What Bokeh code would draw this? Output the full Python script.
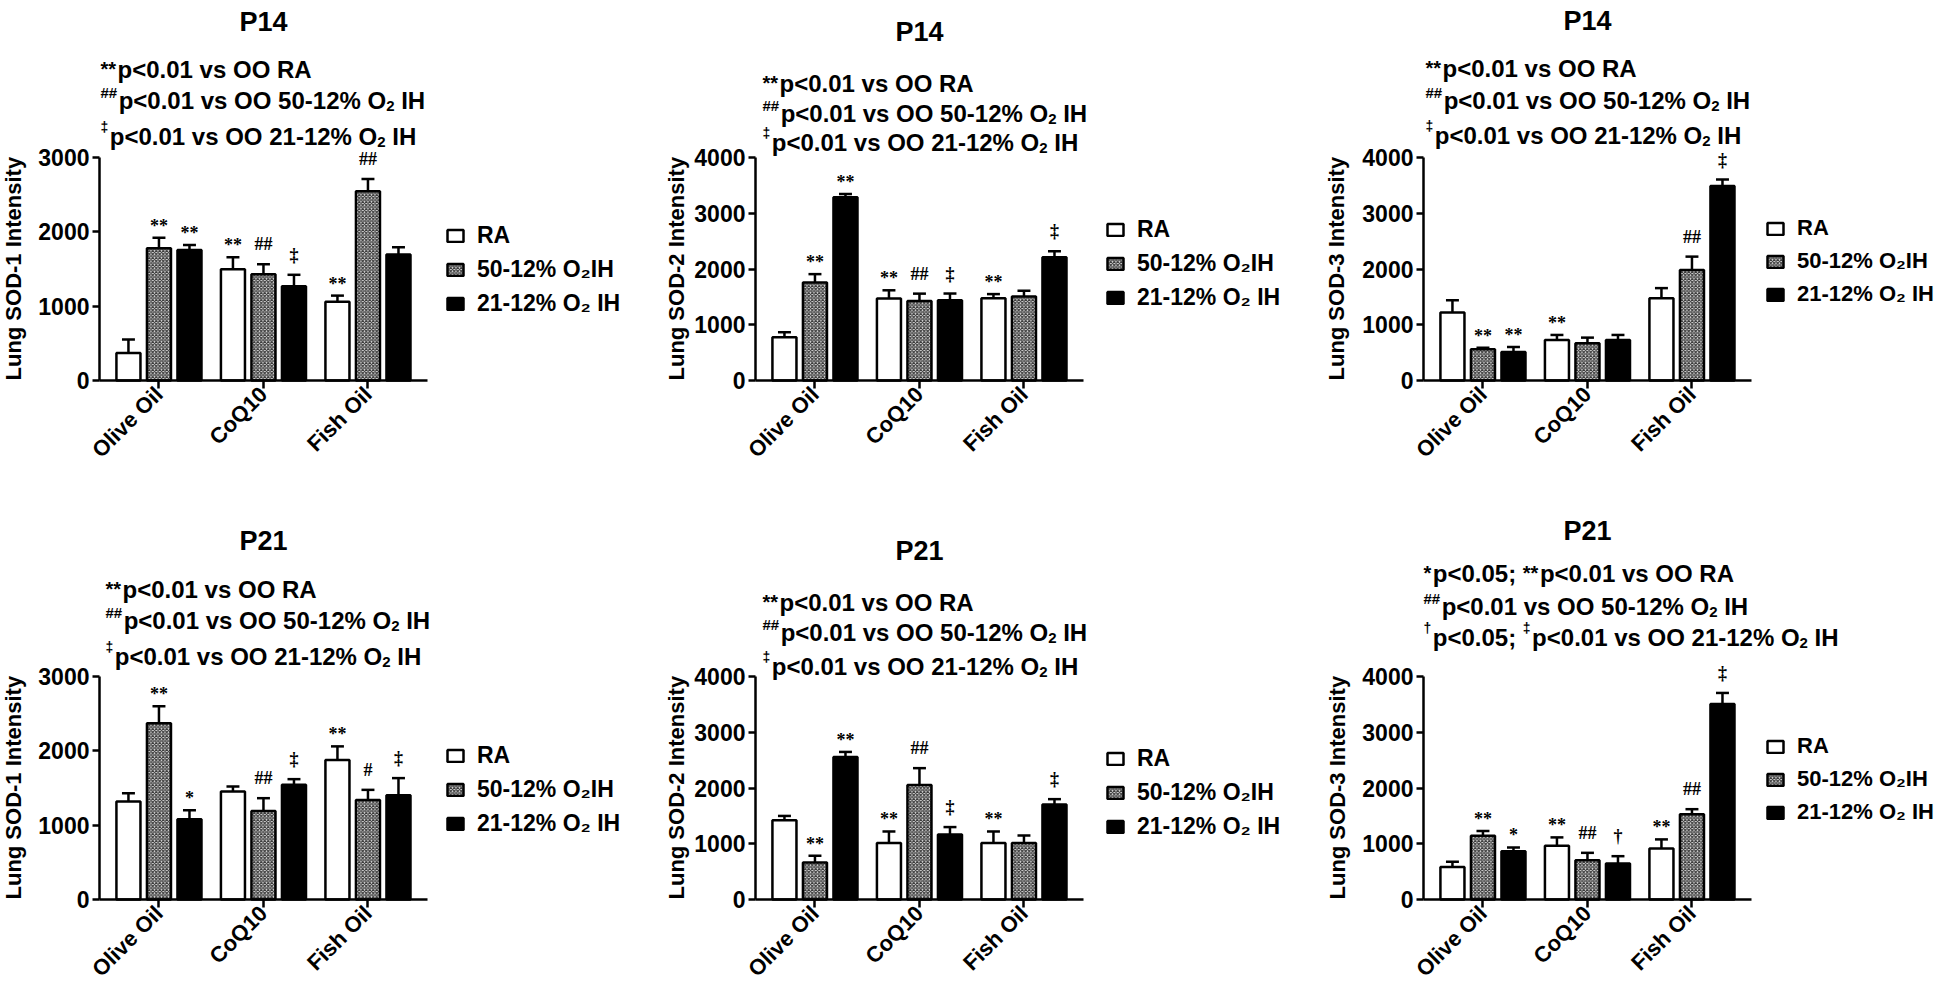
import math
from bokeh.plotting import figure
from bokeh.models import (Range1d, FixedTicker, ColumnDataSource,
                          Label, LabelSet, Legend, LegendItem)
from bokeh.transform import dodge
from bokeh.layouts import column, row
from bokeh.embed import file_html
from bokeh.resources import INLINE

FONT = "Liberation Sans"

# ---------------- data ----------------
GROUPS = ["Olive Oil", "CoQ10", "Fish Oil"]
SERIES = ["RA", "50-12% O\u2082IH", "21-12% O\u2082 IH"]
Y_TICKS_3000 = [0, 1000, 2000, 3000]
Y_TICKS_4000 = [0, 1000, 2000, 3000, 4000]

# rows: RA, 50-12% O2 IH, 21-12% O2 IH ; columns: Olive Oil, CoQ10, Fish Oil
P14_SOD1_MEAN = [[370, 1498, 1058], [1780, 1431, 2545], [1755, 1267, 1694]]
P14_SOD1_SEM = [[180, 160, 84], [140, 133, 167], [67, 155, 99]]
P14_SOD1_SIG = [["", "**", "**"], ["**", "##", "##"], ["**", "\u2021", ""]]

P14_SOD2_MEAN = [[776, 1473, 1477], [1758, 1424, 1507], [3285, 1440, 2210]]
P14_SOD2_SEM = [[90, 145, 73], [150, 134, 103], [60, 120, 108]]
P14_SOD2_SIG = [["", "**", "**"], ["**", "##", ""], ["**", "\u2021", "\u2021"]]

P14_SOD3_MEAN = [[1219, 727, 1477], [559, 667, 1982], [510, 727, 3490]]
P14_SOD3_SEM = [[222, 90, 180], [30, 102, 240], [90, 90, 114]]
P14_SOD3_SIG = [["", "**", ""], ["**", "", "##"], ["**", "", "\u2021"]]

P21_SOD1_MEAN = [[1318, 1453, 1876], [2371, 1192, 1340], [1080, 1543, 1403]]
P21_SOD1_SEM = [[112, 67, 184], [229, 171, 135], [121, 76, 230]]
P21_SOD1_SIG = [["", "", "**"], ["**", "##", "#"], ["*", "\u2021", "\u2021"]]

P21_SOD2_MEAN = [[1420, 1015, 1015], [665, 2054, 1015], [2556, 1166, 1704]]
P21_SOD2_SEM = [[79, 205, 205], [120, 302, 133], [91, 133, 96]]
P21_SOD2_SIG = [["", "**", "**"], ["**", "##", ""], ["**", "\u2021", "\u2021"]]

P21_SOD3_MEAN = [[584, 964, 916], [1145, 705, 1530], [867, 645, 3506]]
P21_SOD3_SEM = [[91, 150, 162], [84, 132, 90], [67, 132, 199]]
P21_SOD3_SIG = [["", "**", "**"], ["**", "##", "##"], ["*", "\u2020", "\u2021"]]

NOTES_STD = [
    [("**", "sup"), ("p<0.01 vs OO RA", "n")],
    [("##", "sup"), ("p<0.01 vs OO 50-12% O", "n"), ("2", "sub"), (" IH", "n")],
    [("\u2021", "sup"), ("p<0.01 vs OO 21-12% O", "n"), ("2", "sub"), (" IH", "n")],
]
NOTES_P21_SOD3 = [
    [("*", "sup"), ("p<0.05; ", "n"), ("**", "sup"), ("p<0.01 vs OO RA", "n")],
    [("##", "sup"), ("p<0.01 vs OO 50-12% O", "n"), ("2", "sub"), (" IH", "n")],
    [("\u2020", "sup"), ("p<0.05; ", "n"), ("\u2021", "sup"),
     ("p<0.01 vs OO 21-12% O", "n"), ("2", "sub"), (" IH", "n")],
]

PANELS = [
    dict(title="P14", ylabel="Lung SOD-1 Intensity", ticks=Y_TICKS_3000,
         mean=P14_SOD1_MEAN, sem=P14_SOD1_SEM, sig=P14_SOD1_SIG, notes=NOTES_STD),
    dict(title="P14", ylabel="Lung SOD-2 Intensity", ticks=Y_TICKS_4000,
         mean=P14_SOD2_MEAN, sem=P14_SOD2_SEM, sig=P14_SOD2_SIG, notes=NOTES_STD),
    dict(title="P14", ylabel="Lung SOD-3 Intensity", ticks=Y_TICKS_4000,
         mean=P14_SOD3_MEAN, sem=P14_SOD3_SEM, sig=P14_SOD3_SIG, notes=NOTES_STD),
    dict(title="P21", ylabel="Lung SOD-1 Intensity", ticks=Y_TICKS_3000,
         mean=P21_SOD1_MEAN, sem=P21_SOD1_SEM, sig=P21_SOD1_SIG, notes=NOTES_STD),
    dict(title="P21", ylabel="Lung SOD-2 Intensity", ticks=Y_TICKS_4000,
         mean=P21_SOD2_MEAN, sem=P21_SOD2_SEM, sig=P21_SOD2_SIG, notes=NOTES_STD),
    dict(title="P21", ylabel="Lung SOD-3 Intensity", ticks=Y_TICKS_4000,
         mean=P21_SOD3_MEAN, sem=P21_SOD3_SEM, sig=P21_SOD3_SIG, notes=NOTES_P21_SOD3),
]

# ---------------- layout / style ----------------
PLOT_W, PLOT_H = 328, 223          # size of the axes box (px)
UNIT = 104.5                       # px per group
X0 = -0.569                        # x of the y axis (group units)
COL_W = [642, 656, 645]
AX_OFF = [99, 113, 125]            # px from figure left edge to y axis
ROW_H = [485, 505]
ROW_BB = [105, 91]                 # px from zero line to figure bottom
AXIS_TOP_IMG = [165, 684]          # image y of top tick
AXIS_BOT_IMG = [388, 907]          # image y of zero line

POS = [
    dict(tb=29, lb=[77, 108, 144], dx=1, leg=76, ylx=13, ldx=18, ls=23),
    dict(tb=39, lb=[91, 121, 150], dx=7, leg=70, ylx=34, ldx=22, ls=23),
    dict(tb=28, lb=[76, 108, 143], dx=2, leg=66, ylx=38, ldx=14, ls=22),
    dict(tb=548, lb=[597, 628, 664], dx=6, leg=77, ylx=13, ldx=18, ls=23),
    dict(tb=558, lb=[610, 640, 674], dx=7, leg=80, ylx=34, ldx=22, ls=23),
    dict(tb=538, lb=[581, 614, 645], dx=0, leg=65, ylx=39, ldx=14, ls=22),
]

NOTE_SIZE = 24
OFFSETS = [-0.292, 0.0, 0.292]
BAR_W = 0.23
CAP = 0.062
FILLS = [dict(fill_color="white"),
         dict(fill_color="#e2e2e2", hatch_pattern="x", hatch_scale=3.5,
              hatch_weight=1.2, hatch_color="#3a3a3a"),
         dict(fill_color="black")]
SIG_DY = {"": 0, "*": 6, "**": 6, "#": 14, "##": 14, "\u2021": 14, "\u2020": 14}
SUP_STYLE = {"*": (20, 1), "#": (15, 8), "\u2021": (14, 10), "\u2020": (14, 10)}
W_BOLD = {' ': 278, '#': 556, '%': 889, '*': 389, '-': 333, '.': 278, ';': 333,
          '<': 584, 'A': 722, 'H': 722, 'I': 278, 'O': 778, 'R': 722, 'p': 611,
          's': 556, 'v': 556, '\u2021': 556, '\u2020': 556}


def text_width(s, size):
    return sum(W_BOLD.get(c, 556) for c in s) * size / 1000.0


def add_note_line(p, segs, x0, y_base):
    x = x0
    for txt, kind in segs:
        if kind == "n":
            size, dy = NOTE_SIZE, 0
        elif kind == "sup":
            size, dy = SUP_STYLE[txt[0]]
        else:
            size, dy = 15, -5
        lead = len(txt) - len(txt.lstrip(" "))
        x += text_width(" " * lead, size)
        shown = txt.strip(" ")
        p.add_layout(Label(x=x, y=y_base + dy, x_units="screen", y_units="screen",
                           text=shown, text_font=FONT, text_font_size=f"{size}px",
                           text_font_style="bold", text_color="black",
                           text_align="left", text_baseline="alphabetic"))
        x += text_width(txt[lead:], size) + (1.5 if kind == "sup" else 0)


def make_panel(idx):
    spec = PANELS[idx]
    pos = POS[idx]
    col, rw = idx % 3, idx // 3
    ymax = spec["ticks"][-1]
    ax = AX_OFF[col]
    bb = ROW_BB[rw]
    frame_w = COL_W[col]
    y_start = -bb * ymax / PLOT_H
    y_end = (ROW_H[rw] - bb) * ymax / PLOT_H
    x_start = X0 - ax / UNIT
    x_end = x_start + frame_w / UNIT
    p = figure(width=COL_W[col], height=ROW_H[rw],
               x_range=Range1d(x_start, x_end), y_range=Range1d(y_start, y_end),
               output_backend="svg", toolbar_location=None,
               min_border_left=0, min_border_right=0,
               min_border_top=0, min_border_bottom=0)
    p.outline_line_color = None
    p.xgrid.grid_line_color = None
    p.ygrid.grid_line_color = None
    p.background_fill_color = "white"
    p.border_fill_color = "white"

    gx = list(range(len(GROUPS)))
    bars = []
    for si in range(3):
        means = spec["mean"][si]
        sems = spec["sem"][si]
        sigs = spec["sig"][si]
        src = ColumnDataSource(dict(
            gx=gx, val=means,
            hi=[m + e for m, e in zip(means, sems)],
            sig=sigs, dy=[SIG_DY[s] for s in sigs]))
        off = OFFSETS[si]
        r = p.vbar(x=dodge("gx", off), top="val", bottom=0, width=BAR_W,
                   source=src, line_color="black", line_width=2.5, **FILLS[si])
        bars.append(r)
        p.segment(x0=dodge("gx", off), y0="val", x1=dodge("gx", off), y1="hi",
                  source=src, line_color="black", line_width=2.5)
        p.segment(x0=dodge("gx", off - CAP), y0="hi", x1=dodge("gx", off + CAP), y1="hi",
                  source=src, line_color="black", line_width=2.5)
        p.add_layout(LabelSet(x=dodge("gx", off), y="hi", text="sig",
                              y_offset="dy", source=src, text_align="center",
                              text_baseline="alphabetic", text_font=FONT,
                              text_font_size="18px", text_font_style="bold",
                              text_color="black"))

    ya = p.yaxis[0]
    ya.fixed_location = X0
    ya.ticker = FixedTicker(ticks=spec["ticks"])
    ya.bounds = (0, ymax)
    ya.axis_line_width = 2.5
    ya.axis_line_color = "black"
    ya.major_tick_line_width = 2.5
    ya.major_tick_line_color = "black"
    ya.major_tick_out = 7
    ya.major_tick_in = 0
    ya.minor_tick_line_color = None
    ya.major_label_standoff = 3
    ya.major_label_text_font = FONT
    ya.major_label_text_font_size = "23px"
    ya.major_label_text_font_style = "bold"
    ya.major_label_text_color = "black"

    xa = p.xaxis[0]
    xa.fixed_location = 0
    xa.ticker = FixedTicker(ticks=gx)
    xa.major_label_overrides = {i: g for i, g in zip(gx, GROUPS)}
    xa.bounds = (X0, X0 + PLOT_W / UNIT)
    xa.axis_line_width = 2.5
    xa.axis_line_color = "black"
    xa.major_tick_line_width = 2.5
    xa.major_tick_line_color = "black"
    xa.major_tick_out = 8
    xa.major_tick_in = 0
    xa.minor_tick_line_color = None
    xa.major_label_orientation = math.pi / 4
    xa.major_label_standoff = 2
    xa.major_label_text_font = FONT
    xa.major_label_text_font_size = "22px"
    xa.major_label_text_font_style = "bold"
    xa.major_label_text_color = "black"

    fbot = AXIS_BOT_IMG[rw] + bb      # image y of the figure's bottom edge
    # y-axis title, starting at the zero line and reading upwards
    p.add_layout(Label(x=pos["ylx"], y=bb, x_units="screen", y_units="screen",
                       text=spec["ylabel"], angle=math.pi / 2,
                       text_font=FONT, text_font_size="22px", text_font_style="bold",
                       text_color="black", text_align="left", text_baseline="middle"))
    p.add_layout(Label(x=ax + PLOT_W / 2, y=fbot - pos["tb"],
                       x_units="screen", y_units="screen", text=spec["title"],
                       text_font=FONT, text_font_size="27px", text_font_style="bold",
                       text_color="black", text_align="center",
                       text_baseline="alphabetic"))
    for segs, base in zip(spec["notes"], pos["lb"]):
        add_note_line(p, segs, ax + pos["dx"], fbot - base)

    item_h, spacing = 28, 7
    leg_h = 3 * item_h + 2 * spacing
    leg_bottom_img = AXIS_TOP_IMG[rw] + pos["leg"] - item_h / 2 + leg_h
    legend = Legend(items=[LegendItem(label=SERIES[i], renderers=[bars[i]]) for i in range(3)],
                    location=(ax + PLOT_W + pos["ldx"], fbot - leg_bottom_img),
                    orientation="vertical",
                    glyph_width=20, glyph_height=15, label_height=20,
                    label_text_font=FONT, label_text_font_size=f"{pos['ls']}px",
                    label_text_font_style="bold", label_text_color="black",
                    label_standoff=12, spacing=spacing, padding=0, margin=0,
                    border_line_color=None, background_fill_alpha=0)
    p.add_layout(legend, "center")
    return p


figs = [make_panel(i) for i in range(6)]
layout = column(row(*figs[:3]), row(*figs[3:]))

open("out.html", "w").write(file_html(layout, INLINE))
